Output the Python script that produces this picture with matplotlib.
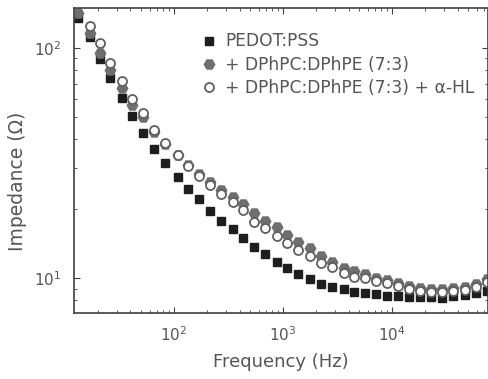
import numpy as np
import matplotlib.pyplot as plt

plt.rcParams['font.family'] = ['DejaVu Sans']

freq = [13.2, 16.9, 20.9, 25.8, 33.2, 40.9, 52.6, 66.4, 83.6, 108,
        136, 171, 215, 272, 349, 432, 543, 685, 881, 1089,
        1371, 1766, 2223, 2799, 3606, 4446, 5610, 7211, 8913, 11450,
        14450, 18200, 22960, 28910, 36480, 46880, 59160, 74470]

z_pedot = [135.0, 111.6, 89.6, 74.1, 60.6, 50.6, 42.7, 36.4, 31.6, 27.5,
           24.4, 22.1, 19.6, 17.7, 16.3, 14.9, 13.6, 12.7, 11.7, 11.05,
           10.4, 9.9, 9.42, 9.14, 8.96, 8.69, 8.61, 8.52, 8.35, 8.35,
           8.27, 8.27, 8.27, 8.19, 8.35, 8.44, 8.61, 8.78]

z_lipid = [142.0, 116.2, 95.1, 80.2, 67.0, 56.5, 50.1, 43.1, 38.2, 34.3,
           31.0, 28.3, 26.2, 24.1, 22.5, 21.0, 19.2, 17.7, 16.7, 15.4,
           14.3, 13.5, 12.5, 11.7, 11.05, 10.7, 10.4, 10.0, 9.8, 9.51,
           9.23, 9.05, 8.96, 8.96, 9.05, 9.14, 9.42, 9.9]

z_hl = [np.nan, 124.6, 105.1, 86.1, 71.9, 60.0, 52.2, 44.0, 38.6, 34.3,
        30.7, 27.8, 25.4, 23.2, 21.4, 19.8, 17.6, 16.5, 15.2, 14.2,
        13.2, 12.5, 11.6, 11.2, 10.5, 10.1, 10.0, 9.7, 9.51, 9.23,
        8.96, 8.78, 8.69, 8.69, 8.78, 8.87, 9.14, 9.61]

labels = ['PEDOT:PSS', '+ DPhPC:DPhPE (7:3)', '+ DPhPC:DPhPE (7:3) + \u03b1-HL']

txt = '#555555'
fig = plt.figure(figsize=(4.89, 3.79), dpi=100)
ax = fig.add_axes([0.151, 0.174, 0.847, 0.805])

ax.plot(freq, z_pedot, 's', color='#1e1e1e', ms=6, mec='#1e1e1e', label=labels[0])
ax.plot(freq, z_lipid, 'H', color='#6e6e6e', ms=7.5, mec='#6e6e6e', label=labels[1])
ax.plot(freq, z_hl, 'o', mfc='white', mec='#606060', mew=1.3, ms=6.5, label=labels[2])

ax.set_xscale('log')
ax.set_yscale('log')
ax.set_xlim(12.1, 76000)
ax.set_ylim(7.05, 149)

ax.tick_params(which='both', direction='in', top=True, right=True,
               colors='#404040', labelcolor=txt, labelsize=11)
ax.tick_params(which='major', length=4, pad=9)
ax.tick_params(which='minor', length=2)
for s in ax.spines.values():
    s.set_color('#404040')
    s.set_linewidth(1.2)

ax.set_xlabel('Frequency (Hz)', fontsize=13, color=txt, labelpad=6)
ax.set_ylabel('Impedance (\u03a9)', fontsize=13.5, color=txt)
ax.yaxis.set_label_coords(-0.113, 0.43)

leg = ax.legend(loc='upper right', frameon=False, fontsize=12.3, handletextpad=0.25,
                labelspacing=0.32, borderaxespad=0.5, handlelength=1.4,
                bbox_to_anchor=(1.005, 0.97))
for t in leg.get_texts():
    t.set_color(txt)

fig.savefig('out.png', dpi=100)
